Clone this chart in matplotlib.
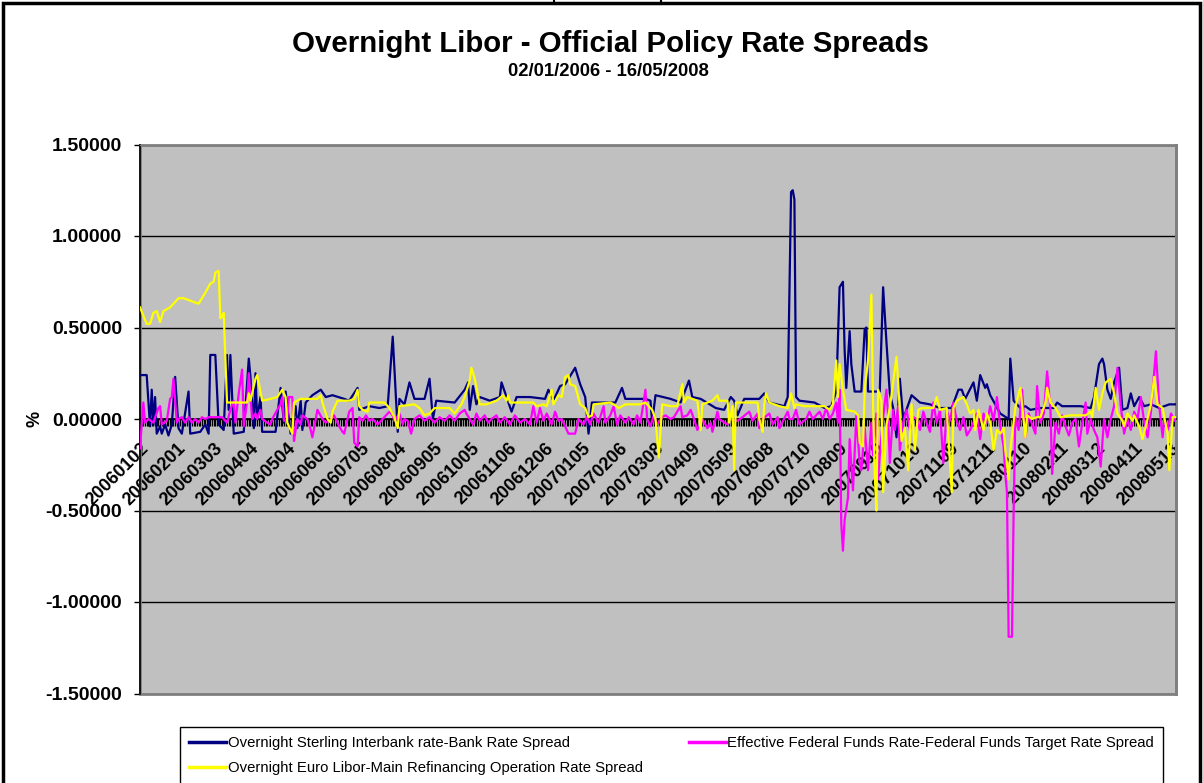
import numpy as np
import pandas as pd
import matplotlib
matplotlib.use('Agg')
import matplotlib.pyplot as plt
from matplotlib.ticker import FixedLocator, MultipleLocator, FormatStrFormatter
from matplotlib.patches import Rectangle

plt.rcParams['font.family'] = ['Liberation Sans', 'DejaVu Sans']

# business days 02/01/2006 - 16/05/2008, axis labelled every 22nd day
days = pd.bdate_range('2006-01-02', '2008-05-16')
tick_pos = list(range(0, len(days), 22))
tick_lab = [days[i].strftime('%Y%m%d') for i in tick_pos]

# Overnight Sterling Interbank rate - Bank Rate spread (day index, %)
gbp_pos = [0, 4, 6, 7, 8, 9, 10, 12, 13, 15, 17, 19, 21, 23, 25, 29, 30, 36, 39, 41,
           42, 45, 47, 50, 52, 53, 54, 56, 62, 65, 66, 68, 69, 70, 72, 73, 81, 84, 86, 87,
           90, 93, 94, 96, 97, 99, 103, 108, 111, 115, 122, 125, 130, 131, 137, 143, 148, 151, 154, 155,
           158, 161, 164, 170, 173, 175, 177, 188, 194, 196, 197, 199, 201, 203, 209, 215, 216, 219, 222, 225,
           233, 242, 244, 247, 251, 254, 260, 263, 266, 268, 270, 284, 288, 290, 302, 305, 306, 308, 317, 323,
           328, 330, 335, 344, 349, 353, 355, 357, 361, 370, 373, 376, 385, 387, 389, 390, 391, 392, 394, 403,
           409, 413, 416, 418, 420, 421, 422, 424, 425, 427, 431, 433, 434, 435, 442, 444, 446, 448, 450, 452,
           454, 456, 461, 466, 472, 478, 485, 489, 491, 493, 498, 500, 502, 505, 506, 508, 514, 519, 520, 522,
           526, 529, 532, 538, 546, 548, 551, 562, 568, 570, 573, 575, 576, 578, 580, 582, 585, 587, 590, 592,
           594, 597, 600, 604, 609, 615, 619]
gbp_val = [0.24, 0.24, -0.04, 0.16, -0.03, 0.12, -0.08, -0.04, -0.08, -0.03, -0.09, -0.03, 0.23, -0.05, -0.08, 0.15, -0.08, -0.07, -0.03, -0.08,
           0.35, 0.35, -0.03, -0.06, 0.35, 0.05, 0.35, -0.08, -0.07, 0.33, 0.23, -0.05, 0.25, 0.0, 0.12, -0.07, -0.07, 0.17, -0.02, 0.15,
           -0.08, 0.07, -0.05, 0.10, -0.06, 0.09, 0.13, 0.16, 0.12, 0.13, 0.11, 0.10, 0.17, 0.05, 0.07, 0.06, 0.07, 0.45, -0.07, 0.11,
           0.08, 0.20, 0.11, 0.11, 0.22, 0.0, 0.10, 0.09, 0.16, 0.20, 0.05, 0.18, 0.08, 0.12, 0.10, 0.12, 0.20, 0.12, 0.04, 0.12,
           0.12, 0.11, 0.16, 0.10, 0.18, 0.19, 0.28, 0.19, 0.12, -0.08, 0.09, 0.09, 0.17, 0.11, 0.11, 0.10, -0.02, 0.13, 0.11, 0.09,
           0.21, 0.12, 0.11, 0.06, 0.05, 0.12, 0.10, 0.02, 0.11, 0.11, 0.14, 0.09, 0.07, 0.12, 1.24, 1.25, 1.20, 0.12, 0.10, 0.09,
           0.06, 0.07, 0.15, 0.72, 0.75, 0.38, 0.17, 0.48, 0.30, 0.15, 0.15, 0.49, 0.50, 0.15, 0.15, 0.72, 0.42, 0.14, 0.06, -0.10,
           0.22, 0.0, 0.13, 0.09, 0.08, 0.06, 0.06, 0.16, 0.16, 0.11, 0.20, 0.10, 0.24, 0.17, 0.19, 0.13, 0.03, 0.0, 0.33, 0.10,
           0.06, 0.07, 0.05, 0.06, 0.06, 0.09, 0.07, 0.07, 0.06, 0.12, 0.30, 0.33, 0.30, 0.16, 0.11, 0.20, 0.28, 0.05, 0.06, 0.14,
           0.07, 0.12, 0.07, 0.08, 0.06, 0.08, 0.08]

# Effective Federal Funds Rate - Federal Funds Target Rate spread
usd_pos = [0, 2, 3, 5, 8, 11, 12, 13, 16, 18, 19, 20, 22, 23, 25, 27, 29, 31, 33, 35,
           37, 39, 41, 45, 49, 52, 54, 56, 57, 59, 61, 62, 64, 65, 67, 69, 70, 72, 73, 76,
           78, 79, 82, 84, 85, 86, 88, 89, 91, 92, 94, 96, 97, 100, 102, 103, 105, 106, 109, 111,
           114, 116, 119, 121, 122, 124, 125, 127, 128, 130, 131, 133, 135, 137, 139, 142, 143, 146, 149, 151,
           152, 155, 157, 158, 160, 162, 164, 167, 170, 173, 176, 179, 182, 185, 188, 191, 194, 195, 197, 199,
           201, 203, 206, 208, 210, 213, 215, 218, 221, 224, 227, 230, 233, 235, 237, 239, 241, 243, 246, 248,
           250, 252, 254, 256, 258, 260, 262, 265, 267, 269, 271, 274, 277, 278, 281, 283, 285, 287, 290, 292,
           295, 297, 299, 302, 303, 305, 307, 309, 312, 314, 317, 319, 323, 324, 327, 329, 331, 333, 335, 336,
           339, 341, 342, 345, 346, 351, 352, 357, 360, 364, 366, 369, 370, 372, 376, 378, 381, 382, 387, 388,
           390, 392, 394, 398, 400, 402, 406, 408, 410, 412, 414, 416, 417, 418, 419, 420, 421, 423, 424, 426,
           428, 430, 431, 433, 435, 437, 438, 440, 441, 442, 444, 445, 446, 447, 448, 450, 451, 453, 454, 456,
           458, 460, 462, 464, 466, 468, 470, 472, 474, 476, 478, 480, 482, 484, 486, 488, 490, 492, 494, 496,
           498, 500, 502, 504, 506, 508, 510, 512, 514, 516, 517, 518, 519, 521, 522, 523, 525, 527, 529, 531,
           533, 535, 536, 538, 540, 542, 544, 545, 547, 549, 551, 553, 555, 557, 559, 561, 563, 565, 566, 568,
           570, 572, 574, 576, 578, 580, 582, 584, 586, 588, 590, 592, 594, 596, 598, 600, 602, 604, 607, 609,
           611, 612, 614, 616, 618, 619]
usd_val = [-0.16, 0.09, -0.02, 0.0, -0.02, 0.06, 0.07, -0.03, -0.01, 0.11, 0.12, 0.22, -0.02, 0.0, 0.01, -0.02, 0.01, -0.02, 0.0, -0.02,
           0.01, 0.0, 0.01, 0.01, 0.01, -0.02, 0.05, 0.10, -0.02, 0.14, 0.27, -0.04, 0.10, 0.25, 0.0, 0.03, 0.0, 0.05, 0.0, -0.02,
           -0.03, 0.0, 0.05, 0.08, 0.12, -0.01, 0.0, 0.12, 0.12, -0.12, 0.0, -0.03, 0.02, 0.0, -0.06, -0.10, 0.0, 0.05, 0.0, -0.02,
           0.0, 0.02, -0.04, -0.07, -0.08, 0.0, 0.04, 0.06, -0.13, -0.15, 0.01, -0.01, 0.02, -0.01, 0.0, -0.03, -0.02, 0.01, 0.04, 0.02,
           -0.01, 0.03, -0.03, 0.0, -0.01, -0.08, 0.0, 0.02, -0.01, 0.01, -0.02, 0.01, -0.01, 0.02, -0.01, 0.03, 0.05, 0.03, 0.0, -0.03,
           0.03, -0.01, 0.02, -0.02, 0.0, 0.02, -0.02, 0.01, -0.03, 0.02, -0.02, 0.0, -0.03, 0.07, -0.02, 0.06, -0.01, 0.03, -0.03, 0.04,
           -0.01, 0.0, -0.04, -0.08, -0.08, -0.08, 0.0, -0.03, 0.01, -0.03, 0.03, -0.02, 0.07, -0.02, 0.02, 0.07, -0.03, 0.02, -0.02, 0.01,
           -0.03, 0.02, -0.02, 0.16, 0.0, -0.04, 0.02, -0.03, 0.01, 0.02, 0.0, 0.01, 0.07, 0.01, 0.02, 0.05, 0.0, -0.06, -0.03, 0.0,
           -0.05, -0.02, -0.07, 0.04, 0.0, -0.03, 0.0, -0.01, 0.01, 0.04, -0.01, 0.03, -0.05, 0.0, 0.03, -0.03, 0.01, -0.05, 0.04, 0.0,
           0.0, 0.05, -0.03, 0.0, 0.04, 0.0, 0.04, 0.0, 0.06, 0.0, 0.03, 0.09, -0.02, 0.16, -0.57, -0.72, -0.55, -0.43, -0.11, -0.39,
           0.02, -0.24, -0.28, -0.05, -0.28, -0.02, -0.20, 0.03, -0.33, -0.20, 0.01, 0.09, 0.16, 0.01, -0.24, 0.05, -0.06, 0.07, -0.17, -0.02,
           0.05, -0.06, 0.01, 0.0, -0.06, 0.04, -0.02, -0.07, 0.09, -0.02, 0.05, -0.24, 0.05, -0.01, 0.09, -0.01, -0.06, 0.01, -0.09, -0.06,
           -0.02, 0.03, -0.11, 0.03, -0.02, 0.07, -0.01, 0.12, -0.04, -0.15, -0.30, -0.40, -1.19, -1.19, -0.50, 0.01, -0.06, 0.16, -0.10, 0.03,
           -0.03, -0.08, 0.18, -0.02, 0.03, 0.26, 0.05, -0.30, -0.02, -0.08, 0.02, -0.04, -0.09, -0.02, 0.0, -0.15, -0.02, 0.09, -0.08, 0.0,
           -0.06, -0.10, -0.26, 0.0, -0.10, 0.0, 0.07, 0.28, 0.07, -0.08, 0.0, -0.06, 0.04, 0.0, 0.12, -0.02, -0.10, 0.04, 0.37, 0.07,
           -0.10, 0.0, -0.06, 0.03, -0.01, 0.01]

# Overnight Euro Libor - Main Refinancing Operation rate spread
eur_pos = [0, 4, 6, 8, 10, 12, 14, 16, 18, 20, 23, 26, 29, 32, 35, 37, 39, 42, 44, 45,
           47, 48, 49, 50, 52, 64, 65, 66, 69, 70, 73, 78, 82, 85, 87, 88, 91, 92, 96, 102,
           106, 108, 109, 112, 114, 115, 118, 125, 128, 130, 131, 133, 136, 137, 146, 149, 152, 154, 155, 164,
           167, 170, 173, 176, 185, 188, 192, 194, 197, 198, 200, 203, 207, 213, 217, 219, 220, 221, 235, 237,
           241, 243, 246, 247, 250, 252, 254, 256, 257, 260, 263, 266, 268, 270, 271, 281, 283, 286, 290, 299,
           302, 306, 308, 310, 312, 317, 321, 324, 325, 327, 333, 335, 336, 342, 345, 346, 351, 352, 354, 355,
           356, 369, 370, 372, 373, 374, 376, 382, 387, 389, 391, 392, 397, 409, 412, 414, 416, 417, 418, 420,
           422, 427, 429, 430, 432, 433, 435, 437, 438, 439, 440, 441, 443, 444, 446, 448, 450, 452, 453, 455,
           457, 459, 461, 463, 465, 467, 474, 476, 478, 482, 485, 486, 488, 492, 494, 496, 498, 499, 501, 504,
           506, 508, 510, 512, 514, 516, 517, 519, 520, 523, 525, 526, 529, 530, 533, 536, 538, 541, 542, 544,
           547, 550, 556, 565, 568, 569, 571, 573, 575, 577, 580, 582, 584, 587, 588, 590, 593, 594, 597, 599,
           602, 604, 606, 608, 611, 612, 614, 615, 617, 619]
eur_val = [0.61, 0.52, 0.52, 0.58, 0.59, 0.53, 0.59, 0.60, 0.61, 0.63, 0.66, 0.66, 0.65, 0.64, 0.63, 0.66, 0.69, 0.74, 0.75, 0.80,
           0.81, 0.55, 0.56, 0.58, 0.09, 0.09, 0.14, 0.10, 0.22, 0.24, 0.10, 0.11, 0.12, 0.16, 0.12, -0.02, -0.08, 0.09, 0.11, 0.11,
           0.11, 0.13, 0.09, 0.0, -0.02, 0.04, 0.10, 0.10, 0.11, 0.16, 0.07, 0.05, 0.04, 0.09, 0.09, 0.06, 0.01, -0.05, 0.07, 0.08,
           0.06, 0.02, 0.03, 0.06, 0.06, 0.03, 0.08, 0.12, 0.21, 0.28, 0.22, 0.08, 0.08, 0.10, 0.13, 0.10, 0.13, 0.09, 0.09, 0.07,
           0.08, 0.07, 0.16, 0.08, 0.13, 0.12, 0.23, 0.24, 0.19, 0.18, 0.08, 0.06, 0.01, 0.02, 0.08, 0.09, 0.08, 0.06, 0.08, 0.08,
           0.09, 0.05, 0.0, -0.21, 0.08, 0.07, 0.07, 0.19, 0.09, 0.12, 0.10, -0.06, 0.08, 0.10, 0.13, 0.10, 0.10, -0.02, 0.07, -0.28,
           0.09, 0.09, 0.0, -0.07, 0.08, 0.14, 0.09, 0.07, 0.06, 0.14, 0.06, 0.08, 0.07, 0.07, 0.05, 0.08, 0.32, 0.12, 0.30, 0.16,
           0.05, 0.04, 0.02, -0.13, -0.15, 0.16, 0.32, 0.68, 0.08, -0.30, -0.50, 0.16, 0.10, -0.40, -0.03, 0.06, 0.20, 0.34, 0.20, -0.12,
           -0.05, -0.28, 0.08, -0.17, 0.05, 0.06, 0.06, 0.12, 0.05, 0.06, -0.40, 0.06, 0.10, 0.12, 0.08, 0.03, 0.05, -0.06, 0.05, -0.06,
           0.03, -0.02, -0.17, -0.06, -0.08, -0.05, -0.17, -0.33, -0.17, 0.06, 0.14, 0.17, -0.10, 0.02, 0.0, 0.01, 0.01, 0.09, 0.17, 0.09,
           0.06, 0.01, 0.02, 0.02, 0.04, 0.01, 0.17, 0.05, 0.14, 0.20, 0.22, 0.14, 0.03, -0.01, -0.04, 0.03, -0.01, 0.02, -0.04, -0.11,
           0.0, 0.08, 0.23, 0.08, 0.06, 0.01, -0.08, -0.28, 0.01, 0.01]

W, H = 1203, 783
fig = plt.figure(figsize=(W / 100, H / 100), dpi=100)
ax = fig.add_axes([140 / W, 1 - 693.5 / H, 1036 / W, 549 / H])
ax.set_facecolor('#C0C0C0')

l1, = ax.plot(gbp_pos, gbp_val, color='#000080', lw=1.6, zorder=3)
l2, = ax.plot(usd_pos, usd_val, color='#FF00FF', lw=1.6, zorder=4)
l3, = ax.plot(eur_pos, eur_val, color='#FFFF00', lw=1.6, zorder=5)

ax.set_xlim(0, len(days) - 1)
ax.set_ylim(-1.5, 1.5)
ax.set_yticks(np.arange(-1.5, 1.51, 0.5))
ax.yaxis.set_major_formatter(FormatStrFormatter('%.5f'))
ax.yaxis.grid(True, color='black', lw=1.0)
ax.set_axisbelow(True)
ax.tick_params(axis='y', direction='out', length=4, width=1, pad=9, labelsize=14)
for t in ax.get_yticklabels():
    t.set_fontweight('bold')

# category axis sits on the zero line with a tick for every day
ax.spines['bottom'].set_position(('data', 0))
ax.spines['bottom'].set_linewidth(1.2)
ax.spines['left'].set_linewidth(1.2)
ax.spines['top'].set_color('#808080')
ax.spines['right'].set_color('#808080')
ax.spines['right'].set_linewidth(2)
ax.xaxis.set_major_locator(FixedLocator(tick_pos))
ax.xaxis.set_minor_locator(MultipleLocator(1))
ax.set_xticklabels(tick_lab)
ax.tick_params(axis='x', which='both', direction='out', length=5, width=0.9, color='black')
ax.tick_params(axis='x', which='major', pad=10, labelsize=13)
for t in ax.get_xticklabels():
    t.set_fontweight('bold')
    t.set_rotation(45)
    t.set_ha('right')
    t.set_va('top')
    t.set_rotation_mode('anchor')
ax.add_patch(Rectangle((0, 0), 1, 1, transform=ax.transAxes, fill=False,
                       ec='#808080', lw=2, clip_on=False, zorder=1))

ax.set_ylabel('%', fontweight='bold', fontsize=13)
ax.yaxis.set_label_coords((44 - 140) / 1036, 0.5)

fig.text(610 / W, 1 - 52 / H, 'Overnight Libor - Official Policy Rate Spreads',
         ha='center', va='baseline', fontsize=21.2, fontweight='bold')
fig.text(608 / W, 1 - 76 / H, '02/01/2006 - 16/05/2008',
         ha='center', va='baseline', fontsize=13.3, fontweight='bold')

leg = fig.legend([l1, l3, l2],
                 ['Overnight Sterling Interbank rate-Bank Rate Spread',
                  'Overnight Euro Libor-Main Refinancing Operation Rate Spread',
                  'Effective Federal Funds Rate-Federal Funds Target Rate Spread'],
                 ncol=2, loc='upper left', bbox_to_anchor=(180 / W, 1 - 727 / H),
                 frameon=True, fancybox=False, edgecolor='black', framealpha=1,
                 borderaxespad=0, prop={'size': 10.7}, handlelength=2.5,
                 handletextpad=0.1, columnspacing=3.1, borderpad=0.6, labelspacing=0.75)
leg.get_frame().set_linewidth(1)
for h in leg.get_lines():
    h.set_linewidth(2.5)

# chart-area frame
fig.patches.append(Rectangle((3 / W, -0.1), 1197 / W, 1.1 - 3 / H, transform=fig.transFigure,
                             fill=False, ec='black', lw=2.5))
fig.patches.append(Rectangle((554 / W, 1 - 4 / H), 107 / W, 10 / H, transform=fig.transFigure,
                             fill=False, ec='black', lw=1.5))

fig.savefig('out.png', dpi=100, facecolor='white')
